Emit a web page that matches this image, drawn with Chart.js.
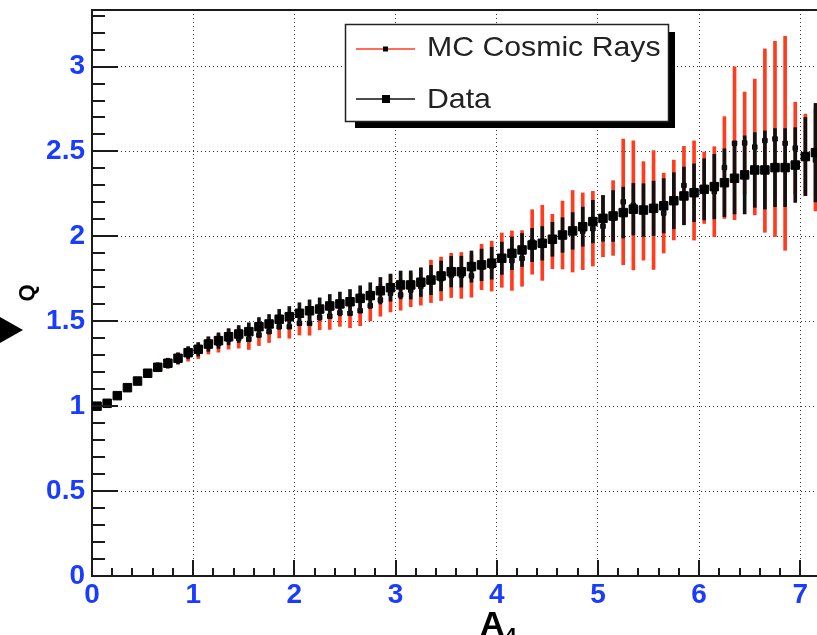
<!DOCTYPE html>
<html>
<head>
<meta charset="utf-8">
<script src="https://cdn.jsdelivr.net/npm/chart.js@4.4.0/dist/chart.umd.min.js"></script>
<style>
  body { margin: 0; background: #fff; }
  canvas { display: block; }
</style>
</head>
<body>
<canvas id="qChart" width="817" height="635"></canvas>
<script>
// bin centres along A4
const aBins = [0.05,0.15,0.25,0.35,0.45,0.55,0.65,0.75,0.85,0.95,
  1.05,1.15,1.25,1.35,1.45,1.55,1.65,1.75,1.85,1.95,
  2.05,2.15,2.25,2.35,2.45,2.55,2.65,2.75,2.85,2.95,
  3.05,3.15,3.25,3.35,3.45,3.55,3.65,3.75,3.85,3.95,
  4.05,4.15,4.25,4.35,4.45,4.55,4.65,4.75,4.85,4.95,
  5.05,5.15,5.25,5.35,5.45,5.55,5.65,5.75,5.85,5.95,
  6.05,6.15,6.25,6.35,6.45,6.55,6.65,6.75,6.85,6.95,
  7.05,7.15];

// Data (big markers)
const dataQ = [1.000,1.017,1.062,1.109,1.148,1.194,1.229,1.253,1.282,1.315,
  1.335,1.366,1.386,1.409,1.425,1.439,1.468,1.484,1.512,1.527,
  1.547,1.562,1.572,1.590,1.602,1.615,1.635,1.651,1.680,1.698,
  1.714,1.714,1.730,1.743,1.767,1.792,1.792,1.822,1.832,1.842,
  1.871,1.900,1.920,1.949,1.959,1.983,2.008,2.032,2.057,2.087,
  2.106,2.120,2.140,2.160,2.155,2.165,2.180,2.210,2.238,2.257,
  2.277,2.293,2.316,2.342,2.362,2.391,2.391,2.405,2.405,2.420,
  2.470,2.493];
const dataErr = [0.010,0.012,0.015,0.018,0.020,0.022,0.025,0.028,0.032,0.036,
  0.040,0.043,0.046,0.048,0.050,0.052,0.054,0.056,0.058,0.060,
  0.062,0.064,0.066,0.068,0.070,0.072,0.074,0.076,0.078,0.080,
  0.082,0.083,0.084,0.086,0.088,0.090,0.091,0.092,0.093,0.094,
  0.095,0.096,0.097,0.098,0.099,0.100,0.102,0.108,0.115,0.125,
  0.135,0.150,0.150,0.152,0.155,0.160,0.160,0.165,0.170,0.170,
  0.180,0.190,0.200,0.210,0.230,0.220,0.230,0.230,0.230,0.220,
  0.230,0.290];

// MC cosmic rays (small markers, red errors)
const mcQ = [1.000,1.017,1.062,1.109,1.148,1.194,1.229,1.253,1.280,1.305,
  1.325,1.355,1.370,1.394,1.400,1.394,1.419,1.439,1.468,1.468,
  1.488,1.488,1.523,1.530,1.550,1.547,1.562,1.592,1.625,1.665,
  1.655,1.684,1.705,1.735,1.750,1.770,1.770,1.767,1.820,1.825,
  1.860,1.857,1.870,1.967,1.962,1.970,2.008,2.030,2.030,2.045,
  2.060,2.108,2.203,2.183,2.150,2.155,2.137,2.214,2.300,2.270,
  2.286,2.263,2.405,2.548,2.550,2.526,2.564,2.574,2.548,2.520,
  2.480,2.450];
const mcErr = [0.010,0.012,0.015,0.018,0.020,0.022,0.026,0.030,0.034,0.040,
  0.045,0.048,0.052,0.058,0.058,0.060,0.062,0.064,0.066,0.068,
  0.069,0.070,0.073,0.078,0.080,0.085,0.088,0.090,0.095,0.110,
  0.090,0.098,0.110,0.125,0.128,0.130,0.135,0.125,0.134,0.147,
  0.160,0.175,0.164,0.190,0.221,0.160,0.200,0.240,0.226,0.220,
  0.180,0.220,0.370,0.380,0.290,0.350,0.235,0.235,0.230,0.292,
  0.210,0.265,0.300,0.450,0.300,0.400,0.540,0.575,0.630,0.270,
  0.240,0.300];

const xTicks = [0, 1, 2, 3, 4, 5, 6, 7];
const yTicks = [0, 0.5, 1, 1.5, 2, 2.5, 3];
const legendLabels = ['MC Cosmic Rays', 'Data'];

const BLUE = '#1a3cff';
const RED = '#ff3c1e';
const INK = '#1a1a1a';
const tickFont = { family: 'Liberation Sans', weight: 'bold', size: 28 };

function points(vals) {
  return aBins.map((x, i) => ({ x: x, y: vals[i] }));
}
function errBars(vals, errs) {
  return aBins.map((x, i) => ({ x: x, y: [vals[i] - errs[i], vals[i] + errs[i]] }));
}

// ROOT style frame: inward ticks, top line, titles, legend box
const rootFrame = {
  id: 'rootFrame',
  afterDraw(chart) {
    const { ctx, chartArea: a, scales: { x, y } } = chart;
    ctx.save();
    ctx.strokeStyle = INK;
    ctx.lineWidth = 2;
    ctx.beginPath();
    ctx.moveTo(a.left, a.top);
    ctx.lineTo(a.right, a.top);
    for (let k = 0; k <= 33; k++) {
      const py = Math.round(y.getPixelForValue(k / 10));
      ctx.moveTo(a.left, py);
      ctx.lineTo(a.left + (k % 5 === 0 ? 26 : 13), py);
    }
    for (let k = 0; k <= 35; k++) {
      const px = Math.round(x.getPixelForValue(k * 0.2));
      ctx.moveTo(px, a.bottom);
      ctx.lineTo(px, a.bottom - (k % 5 === 0 ? 16 : 8));
    }
    ctx.stroke();

    // arrow at the left edge
    ctx.fillStyle = '#000';
    ctx.beginPath();
    ctx.moveTo(0, 317);
    ctx.lineTo(23, 330);
    ctx.lineTo(0, 343);
    ctx.closePath();
    ctx.fill();

    // axis titles
    ctx.save();
    ctx.translate(28, 293);
    ctx.rotate(-Math.PI / 2);
    ctx.font = 'bold 22px "Liberation Sans"';
    ctx.textAlign = 'center';
    ctx.textBaseline = 'middle';
    ctx.fillText('Q', 0, 0);
    ctx.restore();
    ctx.font = 'bold 34px "Liberation Sans"';
    ctx.textAlign = 'left';
    ctx.textBaseline = 'alphabetic';
    ctx.fillText('A', 480, 635);
    const aw = ctx.measureText('A').width;
    ctx.font = 'bold 22px "Liberation Sans"';
    ctx.fillText('4', 480 + aw, 643);

    // legend
    ctx.fillStyle = '#000';
    ctx.fillRect(355, 32, 320, 96);
    ctx.fillStyle = '#fff';
    ctx.fillRect(345, 24, 324, 98);
    ctx.strokeStyle = '#222';
    ctx.lineWidth = 1.5;
    ctx.strokeRect(345.5, 24.5, 323, 97);

    ctx.strokeStyle = RED;
    ctx.beginPath(); ctx.moveTo(356, 49); ctx.lineTo(415, 49); ctx.stroke();
    ctx.fillStyle = '#000';
    ctx.fillRect(383, 46.5, 5, 5);
    ctx.strokeStyle = '#111';
    ctx.beginPath(); ctx.moveTo(356, 99); ctx.lineTo(415, 99); ctx.stroke();
    ctx.fillRect(382, 95, 8, 8);

    ctx.fillStyle = '#222';
    ctx.font = '28px "Liberation Sans"';
    ctx.textBaseline = 'middle';
    ctx.save();
    ctx.translate(427, 0);
    ctx.scale(1.08, 1);
    ctx.fillText(legendLabels[0], 0, 48);
    ctx.fillText(legendLabels[1], 0, 100);
    ctx.restore();
    ctx.restore();
  }
};

new Chart(document.getElementById('qChart'), {
  type: 'scatter',
  data: {
    datasets: [
      {
        type: 'scatter', label: 'Data', data: points(dataQ),
        pointStyle: 'rect', pointRadius: 6, pointBorderWidth: 1,
        pointBackgroundColor: '#000', pointBorderColor: '#000', order: 0
      },
      {
        type: 'bar', label: 'Data errors', data: errBars(dataQ, dataErr),
        backgroundColor: '#111', barThickness: 3, grouped: false, borderWidth: 0, order: 1
      },
      {
        type: 'scatter', label: 'MC Cosmic Rays', data: points(mcQ),
        pointStyle: 'rect', pointRadius: 3.2, pointBorderWidth: 1,
        pointBackgroundColor: '#000', pointBorderColor: '#000', order: 2
      },
      {
        type: 'bar', label: 'MC errors', data: errBars(mcQ, mcErr),
        backgroundColor: RED, barThickness: 3, grouped: false, borderWidth: 0, order: 3
      }
    ]
  },
  options: {
    responsive: false,
    animation: false,
    devicePixelRatio: 1,
    layout: { autoPadding: false, padding: { top: 10, right: 0, left: 0, bottom: 0 } },
    plugins: { legend: { display: false }, tooltip: { enabled: false } },
    scales: {
      x: {
        type: 'linear', min: 0, max: 7.165, offset: false,
        afterBuildTicks: s => { s.ticks = xTicks.map(v => ({ value: v })); },
        afterFit: s => { s.height = 59; s.paddingLeft = 0; s.paddingRight = 0; },
        grid: { color: '#333', lineWidth: 1, drawTicks: false, offset: false },
        border: { display: true, color: INK, width: 2, dash: [1, 3] },
        ticks: { color: BLUE, font: tickFont, padding: 2, maxRotation: 0, autoSkip: false, callback: v => String(v) }
      },
      y: {
        type: 'linear', min: 0, max: 3.333,
        afterBuildTicks: s => { s.ticks = yTicks.map(v => ({ value: v })); },
        afterFit: s => { s.width = 92; s.paddingTop = 0; s.paddingBottom = 0; },
        grid: { color: '#333', lineWidth: 1, drawTicks: false },
        border: { display: true, color: INK, width: 2, dash: [1, 3] },
        ticks: { color: BLUE, font: tickFont, padding: 7, callback: v => String(v) }
      }
    }
  },
  plugins: [rootFrame]
});
</script>
</body>
</html>
